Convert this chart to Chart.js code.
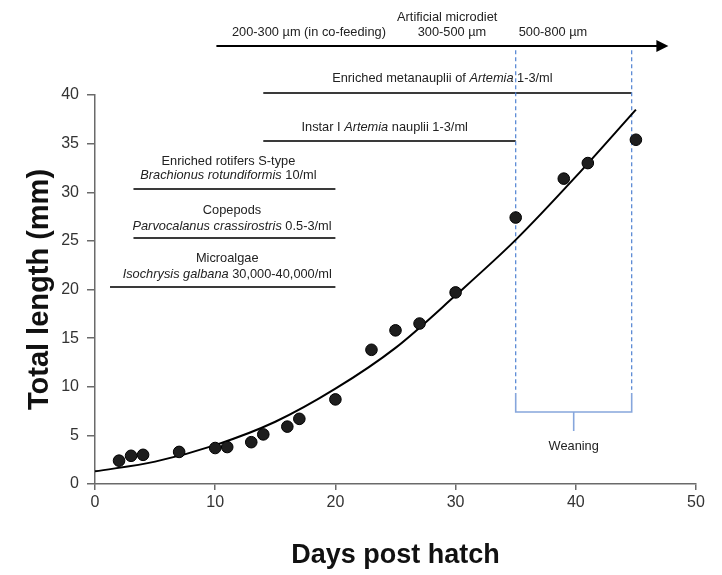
<!DOCTYPE html>
<html><head><meta charset="utf-8">
<script src="https://cdn.jsdelivr.net/npm/chart.js@4/dist/chart.umd.min.js"></script>
<style>html,body{margin:0;padding:0;background:#fff}#wrap{width:722px;height:575px}</style>
</head><body><div id="wrap"><canvas id="c" width="722" height="575"></canvas></div>
<script>
// ---- data ----
const days    = [2, 3, 4, 7, 10, 11, 13, 14, 16, 17, 20, 23, 25, 27, 30, 35, 39, 41, 45];
const lengths = [2.4, 2.9, 3.0, 3.3, 3.7, 3.8, 4.3, 5.1, 5.9, 6.7, 8.7, 13.8, 15.8, 16.5, 19.7, 27.4, 31.4, 33.0, 35.4];
const fitDays    = [0, 5, 10, 15, 20, 25, 30, 35, 40, 45];
const fitLengths = [1.3, 2.3, 4.0, 6.4, 9.8, 14.0, 19.4, 25.1, 31.6, 38.5];
const xTicks = [0, 10, 20, 30, 40, 50];
const yTicks = [0, 5, 10, 15, 20, 25, 30, 35, 40];

// feeding regimes (text segments: [text, italic]) and day spans
const feedText = [
  [[["Enriched metanauplii of ", false], ["Artemia", true], [" 1-3/ml", false]]],
  [[["Instar I ", false], ["Artemia", true], [" nauplii 1-3/ml", false]]],
  [[["Enriched rotifers S-type", false]], [["Brachionus rotundiformis", true], [" 10/ml", false]]],
  [[["Copepods", false]], [["Parvocalanus crassirostris", true], [" 0.5-3/ml", false]]],
  [[["Microalgae", false]], [["Isochrysis galbana", true], [" 30,000-40,000/ml", false]]]
];
const feedStart = [14, 14, 3.2, 3.2, 1.25];
const feedEnd   = [44.65, 35, 20, 20, 20];
const dietTitle = "Artificial microdiet";
const dietSizes = ["200-300 µm (in co-feeding)", "300-500 µm", "500-800 µm"];
const dietStart = 10.1, dietEnd = 47.7;
const weanStart = 35, weanEnd = 44.65;
const weanLabel = "Weaning";

const FONT = '"Liberation Sans", Arial, Helvetica, sans-serif';
const TS = 12.8;

function drawRich(ctx, segs, cx, cy, size, color) {
  const widths = segs.map(([t, it]) => { ctx.font = (it ? 'italic ' : '') + size + 'px ' + FONT; return ctx.measureText(t).width; });
  const total = widths.reduce((a, b) => a + b, 0);
  let x = cx - total / 2;
  ctx.textBaseline = 'middle'; ctx.textAlign = 'left'; ctx.fillStyle = color;
  segs.forEach(([t, it], i) => { ctx.font = (it ? 'italic ' : '') + size + 'px ' + FONT; ctx.fillText(t, x, cy); x += widths[i]; });
}

const annot = {
  id: 'annot',
  beforeDatasetsDraw(chart) {
    const ctx = chart.ctx, xs = chart.scales.x, ys = chart.scales.y;
    const X = v => xs.getPixelForValue(v), Y = v => ys.getPixelForValue(v);
    ctx.save();
    // feeding lines and labels
    const lineVal  = [40.2, 35.27, 30.33, 25.3, 20.26];
    const textVal  = [[41.75], [36.7], [33.2, 31.75], [28.1, 26.5], [23.2, 21.5]];
    const textDay  = [28.9, 24.1, 11.1, 11.4, 11.0];
    for (let i = 0; i < feedText.length; i++) {
      ctx.strokeStyle = '#3a3a3a'; ctx.lineWidth = 2;
      ctx.beginPath(); ctx.moveTo(X(feedStart[i]), Y(lineVal[i])); ctx.lineTo(X(feedEnd[i]), Y(lineVal[i])); ctx.stroke();
      feedText[i].forEach((segs, k) => drawRich(ctx, segs, X(textDay[i]), Y(textVal[i][k]), TS, '#222'));
    }
    // weaning dashed lines
    ctx.strokeStyle = '#4f82d2'; ctx.lineWidth = 1.2; ctx.setLineDash([4, 3]);
    [weanStart, weanEnd].forEach(d => { ctx.beginPath(); ctx.moveTo(X(d), Y(44.6)); ctx.lineTo(X(d), Y(9.7)); ctx.stroke(); });
    ctx.setLineDash([]);
    // bracket
    ctx.strokeStyle = '#86a6dc'; ctx.lineWidth = 1.6;
    ctx.beginPath();
    ctx.moveTo(X(weanStart), Y(9.36)); ctx.lineTo(X(weanStart), Y(7.4)); ctx.lineTo(X(weanEnd), Y(7.4)); ctx.lineTo(X(weanEnd), Y(9.36));
    const mid = (weanStart + weanEnd) / 2;
    ctx.moveTo(X(mid), Y(7.4)); ctx.lineTo(X(mid), Y(5.45));
    ctx.stroke();
    drawRich(ctx, [[weanLabel, false]], X(mid), Y(3.84), TS, '#222');
    // artificial microdiet arrow
    const ay = Y(45.04), x0 = X(dietStart), x1 = X(dietEnd);
    ctx.strokeStyle = '#000'; ctx.fillStyle = '#000'; ctx.lineWidth = 2;
    ctx.beginPath(); ctx.moveTo(x0, ay); ctx.lineTo(x1 - 10, ay); ctx.stroke();
    ctx.beginPath(); ctx.moveTo(x1, ay); ctx.lineTo(x1 - 12, ay - 6); ctx.lineTo(x1 - 12, ay + 6); ctx.closePath(); ctx.fill();
    drawRich(ctx, [[dietTitle, false]], X(29.3), Y(48.0), TS, '#222');
    const sizeDays = [17.8, 29.7, 38.1];
    dietSizes.forEach((t, i) => drawRich(ctx, [[t, false]], X(sizeDays[i]), Y(46.4), TS, '#222'));
    ctx.restore();
  }
};

const axisColor = '#6a6a6a';
new Chart(document.getElementById('c'), {
  data: {
    datasets: [
      { type: 'scatter', data: days.map((d, i) => ({ x: d, y: lengths[i] })),
        backgroundColor: '#1e1e1e', borderColor: '#000', borderWidth: 1, pointRadius: 5.8, order: 1 },
      { type: 'line', data: fitDays.map((d, i) => ({ x: d, y: fitLengths[i] })),
        borderColor: '#000', borderWidth: 2, pointRadius: 0, fill: false, cubicInterpolationMode: 'monotone', order: 2 }
    ]
  },
  options: {
    responsive: false, animation: false, devicePixelRatio: 1,
    layout: { padding: { top: 95, right: 26, left: 0, bottom: 0 } },
    plugins: { legend: { display: false }, tooltip: { enabled: false } },
    scales: {
      x: {
        type: 'linear', min: 0, max: 50,
        afterBuildTicks: s => { s.ticks = xTicks.map(v => ({ value: v })); },
        afterFit: s => { s.height = 91; },
        grid: { display: true, drawOnChartArea: false, drawTicks: true, tickLength: 6, color: axisColor, lineWidth: 1.5 },
        border: { display: true, color: axisColor, width: 1.5 },
        ticks: { padding: 3, color: '#333', font: { family: FONT, size: 16 } },
        title: { display: true, text: 'Days post hatch', color: '#111', padding: { top: 0, bottom: 3 }, font: { family: FONT, size: 27, weight: 'bold' } }
      },
      y: {
        type: 'linear', min: 0, max: 40,
        afterBuildTicks: s => { s.ticks = yTicks.map(v => ({ value: v })); },
        afterFit: s => { s.width = 95; },
        grid: { display: true, drawOnChartArea: false, drawTicks: true, tickLength: 8, color: axisColor, lineWidth: 1.5 },
        border: { display: true, color: axisColor, width: 1.5 },
        ticks: { padding: 8, color: '#333', font: { family: FONT, size: 16 } },
        title: { display: true, text: 'Total length (mm)', color: '#111', padding: { top: 22.6, bottom: 0 }, font: { family: FONT, size: 29, weight: 'bold' } }
      }
    }
  },
  plugins: [annot]
});
</script>
</body></html>
